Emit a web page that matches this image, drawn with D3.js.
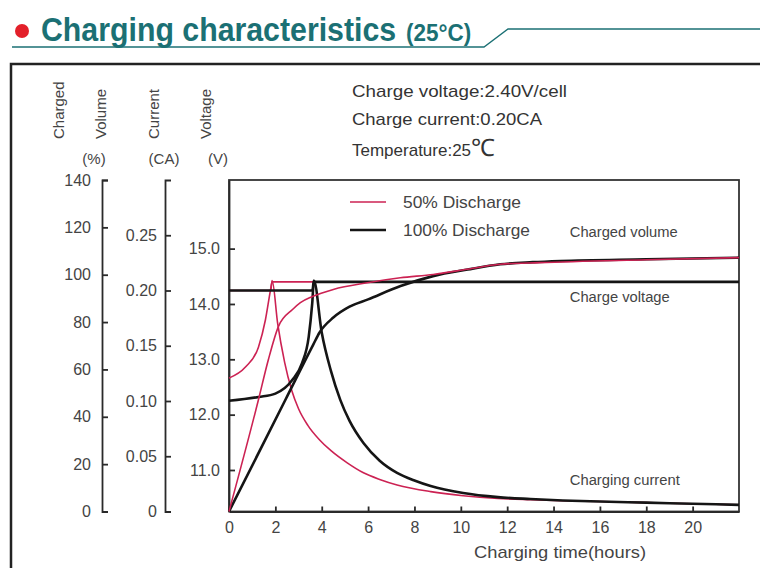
<!DOCTYPE html>
<html lang="en">
<head>
<meta charset="utf-8">
<title>Charging characteristics</title>
<script src="https://d3js.org/d3.v7.min.js"></script>
<style>
body{margin:0;background:#fff;}
text{font-family:"Liberation Sans",Arial,sans-serif;}
</style>
</head>
<body>
<div id="chart"></div>
<script>
var w = 760;
var h = 568;

// tick labels
var hourTicks = [0,2,4,6,8,10,12,14,16,18,20];
var volumeTicks = [0,20,40,60,80,100,120,140];
var currentTicks = [0,0.05,0.10,0.15,0.20,0.25];
var voltageTicks = [11,12,13,14,15];

// series, [hours, value]
var volume50 = [[0,0],[1.27,47.2],[1.70,64.2],[2.13,78.1],[2.74,85.3],[3.08,88.2],[3.6,90.8],[4.5,93.8],[5.97,96.6],[7.39,98.7],[8.81,100.1],[10.28,102.3],[11.7,104.4],[13.4,105.1],[18,106.3],[22,107.2]];
var volume100 = [[0,0],[2.44,47.3],[3.64,70.6],[3.9,75.5],[4.5,81.9],[5.2,86.5],[6.0,89.6],[7.4,95.2],[8.8,99.4],[10.3,102.2],[11.7,104.4],[13.1,105.3],[14.3,105.8],[18,106.5],[22,107.2]];
var voltage50 = [[0,12.66],[0.71,12.86],[1.27,13.22],[1.57,13.71],[1.79,14.25],[1.86,14.4],[22,14.4]];
var voltage100 = [[0,12.25],[1.28,12.32],[2.0,12.38],[2.72,12.62],[3.15,12.93],[3.44,13.41],[3.59,14.01],[3.66,14.4],[22,14.4]];
var current50 = [[0,0.20],[1.80,0.20],[1.86,0.209],[2.1,0.170],[2.4,0.135],[2.7,0.110],[3.0,0.093],[3.4,0.078],[3.9,0.065],[4.4,0.055],[5.1,0.044],[5.8,0.035],[6.5,0.029],[7.25,0.024],[8.7,0.018],[10.1,0.0143],[11.6,0.0118],[13,0.0106],[14.4,0.0097],[16,0.009],[18,0.008],[20,0.007],[22,0.006]];
var current100 = [[0,0.20],[3.60,0.20],[3.66,0.209],[4.0,0.162],[4.4,0.127],[4.8,0.101],[5.2,0.082],[5.8,0.062],[6.5,0.046],[7.25,0.035],[8.0,0.028],[8.7,0.0230],[10.1,0.0167],[11.6,0.013],[13,0.0113],[14.4,0.01],[16,0.009],[18,0.008],[20,0.007],[22,0.006]];

var red = "#cc2253";
var black = "#151515";
var teal = "#1b7074";
var grey = "#444";

var plot = {left:229, right:739, top:180, bottom:511.5};

var svg = d3.select("#chart").append("svg")
  .attr("width", w)
  .attr("height", h);

var x = d3.scaleLinear().domain([0,22]).range([plot.left, plot.right]);
var yVol = d3.scaleLinear().domain([0,140]).range([plot.bottom, plot.top]);
var yCur = d3.scaleLinear().domain([0,0.30]).range([plot.bottom, plot.top]);
var yVolt = d3.scaleLinear().domain([10.25,16.24]).range([plot.bottom, plot.top]);

drawHeader();
drawAxes();
drawSeries();
drawLabels();

function drawHeader(){
  svg.append("circle").attr("cx",22).attr("cy",31).attr("r",7).attr("fill","#e3202a");
  svg.append("text").attr("transform","translate(41,41) scale(1,1.08)")
    .attr("font-size",30.3).attr("font-weight","bold").attr("fill",teal)
    .text("Charging characteristics");
  svg.append("text").attr("transform","translate(406,41) scale(1,1.1)")
    .attr("font-size",22.5).attr("font-weight","bold").attr("fill",teal)
    .text("(25°C)");
  svg.append("path")
    .attr("d","M12,47H484L508,29H760")
    .attr("fill","none").attr("stroke",teal).attr("stroke-width",1.3);
  // outer frame
  svg.append("rect").attr("x",11).attr("y",64).attr("width",800).attr("height",600)
    .attr("fill","none").attr("stroke","#222").attr("stroke-width",2.5);
}

function styleAxis(g){
  g.attr("font-size",null).attr("font-family",null);
  g.selectAll("path,line").attr("stroke","#2a2a2a").attr("stroke-width",1.8);
  g.selectAll("text").attr("font-size",16).attr("fill",grey);
}

function drawAxes(){
  svg.append("rect")
    .attr("x",plot.left).attr("y",plot.top)
    .attr("width",plot.right-plot.left).attr("height",plot.bottom-plot.top)
    .attr("fill","none").attr("stroke","#333").attr("stroke-width",1.8);

  svg.append("g").attr("transform","translate(102,0)")
    .call(d3.axisLeft(yVol).tickValues(volumeTicks).tickSizeInner(-6).tickSizeOuter(-6).tickPadding(11))
    .call(styleAxis);

  svg.append("g").attr("transform","translate(165,0)")
    .call(d3.axisLeft(yCur).tickValues(currentTicks).tickSizeInner(-6).tickSizeOuter(-6).tickPadding(8)
      .tickFormat(function(d){ return d===0 ? "0" : d3.format(".2f")(d); }))
    .call(styleAxis);

  svg.append("g").attr("transform","translate("+plot.left+",0)")
    .call(d3.axisLeft(yVolt).tickValues(voltageTicks).tickSizeInner(-6).tickSizeOuter(0).tickPadding(9)
      .tickFormat(d3.format(".1f")))
    .call(styleAxis);

  svg.append("g").attr("transform","translate(0,"+plot.bottom+")")
    .call(d3.axisBottom(x).tickValues(hourTicks).tickSizeInner(-5).tickSizeOuter(0).tickPadding(10))
    .call(styleAxis);

  // axis titles
  var titles = [["Charged",64],["Volume",106],["Current",159],["Voltage",211]];
  titles.forEach(function(t){
    svg.append("text").attr("transform","translate("+t[1]+",139) rotate(-90)")
      .attr("font-size",15).attr("fill",grey).text(t[0]);
  });
  var units = [["(%)",94],["(CA)",164],["(V)",218]];
  units.forEach(function(u){
    svg.append("text").attr("x",u[1]).attr("y",164).attr("text-anchor","middle")
      .attr("font-size",15).attr("fill",grey).text(u[0]);
  });

  svg.append("text").attr("x",560).attr("y",558).attr("text-anchor","middle")
    .attr("font-size",17).attr("fill",grey)
    .attr("textLength",172).attr("lengthAdjust","spacingAndGlyphs")
    .text("Charging time(hours)");
}

function addLine(data, yScale, color, width){
  var line = d3.line()
    .x(function(d){ return x(d[0]); })
    .y(function(d){ return yScale(d[1]); })
    .curve(d3.curveMonotoneX);
  svg.append("path").datum(data)
    .attr("d", line)
    .attr("fill","none")
    .attr("stroke",color)
    .attr("stroke-width",width)
    .attr("stroke-linejoin","round");
}

function drawSeries(){
  addLine(voltage50, yVolt, red, 1.6);
  addLine(current50, yCur, red, 1.6);
  addLine(voltage100, yVolt, black, 2.6);
  addLine(current100, yCur, black, 2.6);
  addLine(volume100, yVol, black, 2.6);
  addLine(volume50, yVol, red, 1.6);
}

function drawLabels(){
  // info block
  svg.append("text").attr("x",352).attr("y",97).attr("font-size",17).attr("fill","#333")
    .attr("textLength",215).attr("lengthAdjust","spacingAndGlyphs")
    .text("Charge voltage:2.40V/cell");
  svg.append("text").attr("x",352).attr("y",125).attr("font-size",17).attr("fill","#333")
    .attr("textLength",190).attr("lengthAdjust","spacingAndGlyphs")
    .text("Charge current:0.20CA");
  var t = svg.append("text").attr("x",352).attr("y",156).attr("font-size",17).attr("fill","#333");
  t.append("tspan").text("Temperature:25");
  t.append("tspan").attr("font-size",24).text("℃");

  // legend
  var legend = [["50% Discharge",red,1.6,202,118],["100% Discharge",black,2.6,230,127]];
  legend.forEach(function(l){
    svg.append("line").attr("x1",350).attr("x2",386).attr("y1",l[3]).attr("y2",l[3])
      .attr("stroke",l[1]).attr("stroke-width",l[2]);
    svg.append("text").attr("x",403).attr("y",l[3]+6).attr("font-size",17).attr("fill",grey)
      .attr("textLength",l[4]).attr("lengthAdjust","spacingAndGlyphs").text(l[0]);
  });

  // curve notes
  var notes = [["Charged volume",yVol(116),108],["Charge voltage",yVolt(14.03),100],["Charging current",yCur(0.024),110]];
  notes.forEach(function(n){
    svg.append("text").attr("x",x(14.7)).attr("y",n[1]).attr("font-size",14).attr("fill",grey)
      .attr("textLength",n[2]).attr("lengthAdjust","spacingAndGlyphs").text(n[0]);
  });
}
</script>
</body>
</html>
